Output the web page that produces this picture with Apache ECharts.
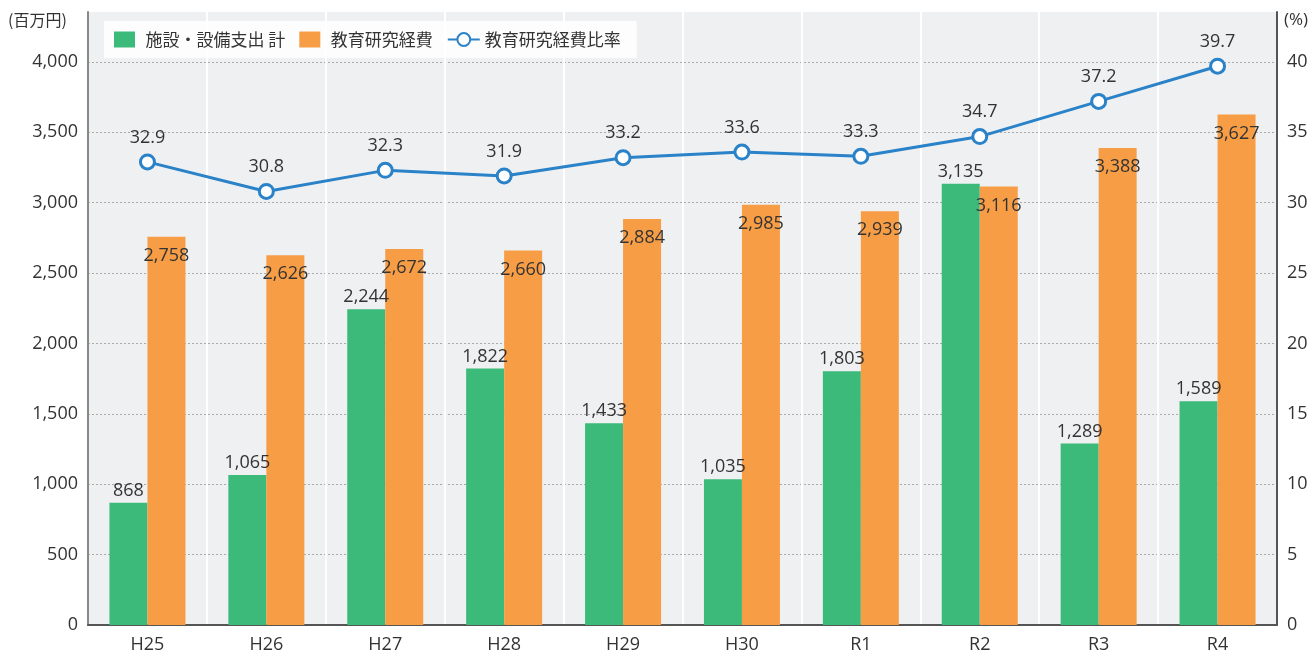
<!DOCTYPE html>
<html>
<head>
<meta charset="utf-8">
<title></title>
<style type="text/css">
  html, body { margin: 0; padding: 0; background: #fff; }
  #main { width: 1313px; height: 654px; }
</style>
</head>
<body>
<div id="main"></div>
<script src="https://cdn.jsdelivr.net/npm/echarts@6/dist/echarts.min.js"></script>
<script type="text/javascript">
var years = ['H25', 'H26', 'H27', 'H28', 'H29', 'H30', 'R1', 'R2', 'R3', 'R4'];
var facility = [868, 1065, 2244, 1822, 1433, 1035, 1803, 3135, 1289, 1589];
var research = [2758, 2626, 2672, 2660, 2884, 2985, 2939, 3116, 3388, 3627];
var ratio = [32.9, 30.8, 32.3, 31.9, 33.2, 33.6, 33.3, 34.7, 37.2, 39.7];

var font = '"Open Sans", "Noto Sans CJK JP", sans-serif';
var cjk = '"Noto Sans CJK JP", "Noto Sans", sans-serif';
var textColor = '#333';

var myChart = echarts.init(document.getElementById('main'));

function fmt(v) {
  return v.toLocaleString('en-US');
}

var option = {
  animation: false,
  textStyle: { fontFamily: font },
  grid: { left: 88, right: 36, top: 12, bottom: 27, show: true, backgroundColor: '#eff0f2', borderWidth: 0 },
  graphic: [
    { type: 'text', left: 8, top: 12, style: { text: '(百万円)', fontSize: 16, fill: textColor, fontFamily: cjk } },
    { type: 'text', left: 1284, top: 12, style: { text: '(%)', fontSize: 17, fill: textColor, fontFamily: font } }
  ],
  legend: {
    left: 104, top: 21,
    padding: [10, 16, 10, 10],
    backgroundColor: 'rgba(255,255,255,0.85)',
    itemGap: 14,
    itemWidth: 32, itemHeight: 16,
    textStyle: { fontSize: 17, color: textColor, fontFamily: cjk },
    data: [
      { name: '施設・設備支出 計', icon: 'path://M0,0h21v16h-21z' },
      { name: '教育研究経費', icon: 'path://M0,0h21v16h-21z' },
      { name: '教育研究経費比率' }
    ]
  },
  xAxis: {
    type: 'category',
    data: years,
    axisLine: { lineStyle: { color: '#555', width: 2 } },
    axisTick: { show: false },
    axisLabel: { fontSize: 18, color: textColor, margin: 11 },
    splitLine: { show: true, lineStyle: { color: '#ffffff', width: 2 } }
  },
  yAxis: [
    {
      type: 'value', min: 0, max: 4355, interval: 500,
      axisLine: { show: true, lineStyle: { color: '#888', width: 2 } },
      axisTick: { show: false },
      axisLabel: {
        fontSize: 18, color: textColor, margin: 10,
        formatter: function (v) { return v > 4000 ? '' : fmt(v); }
      },
      splitLine: { showMaxLine: false, lineStyle: { color: '#aaa', type: [2, 2], width: 1 } }
    },
    {
      type: 'value', min: 0, max: 43.55, interval: 5,
      axisLine: { show: true, lineStyle: { color: '#555', width: 2 } },
      axisTick: { show: false },
      axisLabel: {
        fontSize: 18, color: textColor, margin: 10,
        formatter: function (v) { return v > 40 ? '' : v; }
      },
      splitLine: { show: false }
    }
  ],
  series: [
    {
      name: '施設・設備支出 計',
      type: 'bar',
      data: facility,
      barWidth: 38,
      barGap: '0%',
      itemStyle: { color: '#3bba7a' },
      label: {
        show: true, position: 'top', distance: 3,
        fontSize: 18, color: textColor,
        formatter: function (p) { return fmt(p.value); }
      }
    },
    {
      name: '教育研究経費',
      type: 'bar',
      data: research,
      barWidth: 38,
      barGap: '0%',
      itemStyle: { color: '#f79d46' },
      label: {
        show: true, position: 'insideTop', distance: 10,
        fontSize: 18, color: textColor,
        formatter: function (p) { return fmt(p.value); }
      }
    },
    {
      name: '教育研究経費比率',
      type: 'line',
      yAxisIndex: 1,
      data: ratio,
      symbol: 'circle',
      symbolSize: 14,
      lineStyle: { color: '#2a82c8', width: 3 },
      itemStyle: { color: '#ffffff', borderColor: '#2a82c8', borderWidth: 3 },
      label: {
        show: true, position: 'top', distance: 7,
        fontSize: 18, color: textColor,
        formatter: function (p) { return p.value.toFixed(1); }
      },
      z: 5
    }
  ]
};

option && myChart.setOption(option);
</script>
</body>
</html>
